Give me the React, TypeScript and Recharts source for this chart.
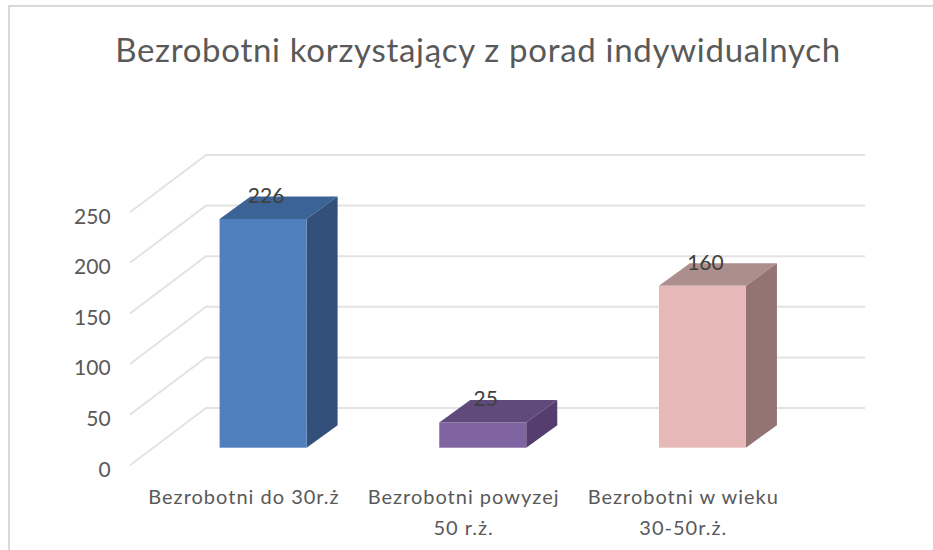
import React from 'react';
import { BarChart, Bar, XAxis, YAxis, CartesianGrid, LabelList } from 'recharts';

const categories = ['Bezrobotni do 30r.ż', 'Bezrobotni powyzej\n50 r.ż.', 'Bezrobotni w wieku\n30-50r.ż.'];
const values = [226, 25, 160];
const yTicks = [0, 50, 100, 150, 200, 250];

const frontColors = ['#4f7fbc', '#8064a2', '#e6b9b8'];
const topColors = ['#3b6395', '#604a7b', '#ac8e8c'];
const sideColors = ['#325079', '#553e6f', '#937473'];

const data = categories.map((name, i) => ({ name, value: values[i] }));

const FONT = 'Lato, sans-serif';
const DEPTH_X = 31;
const DEPTH_Y = 22.5;

const Bar3D = (props: any) => {
  const { x, y, width, height, index } = props;
  const r = x + width;
  const b = y + height;
  return (
    <g>
      <polygon
        points={`${x},${y} ${x + DEPTH_X},${y - DEPTH_Y} ${r + DEPTH_X},${y - DEPTH_Y} ${r},${y}`}
        fill={topColors[index]}
      />
      <polygon
        points={`${r},${y} ${r + DEPTH_X},${y - DEPTH_Y} ${r + DEPTH_X},${b - DEPTH_Y} ${r},${b}`}
        fill={sideColors[index]}
      />
      <rect x={x} y={y} width={width} height={height} fill={frontColors[index]} />
    </g>
  );
};

// floor diagonal plus back wall line for each y tick
const GridLine3D = (props: any) => {
  const { x1, x2, y1, index } = props;
  return (
    <g key={`grid-${index}`} stroke="#e3e3e3" strokeWidth={2} fill="none">
      <polyline points={`${x1 - 23.6},${y1 + 17.5} ${x1 + 52.4},${y1 - 39.7} ${x2 + 52.4},${y1 - 39.7}`} />
    </g>
  );
};

const YTick = (props: any) => {
  const { x, y, payload } = props;
  return (
    <text x={x - 35} y={y + 20.3} textAnchor="end" dominantBaseline="central" fill="#595959" fontSize={21} fontFamily={FONT}>
      {payload.value}
    </text>
  );
};

const XTick = (props: any) => {
  const { x, y, payload } = props;
  const lines = String(payload.value).split('\n');
  return (
    <text textAnchor="middle" fill="#595959" fontSize={20} letterSpacing={1} fontFamily={FONT}>
      {lines.map((line, i) => (
        <tspan key={i} x={x - 19.5} y={y + 48 + i * 31}>
          {line}
        </tspan>
      ))}
    </text>
  );
};

export default function App() {
  return (
    <div style={{ position: 'absolute', left: 0, top: 0, width: 933, height: 550, overflow: 'hidden', background: '#fff' }}>
      <div
        style={{
          position: 'absolute',
          left: 8,
          top: 5,
          width: 925,
          height: 545,
          borderLeft: '2px solid #d9d9d9',
          borderTop: '2px solid #d9d9d9',
        }}
      />
      <div
        style={{
          position: 'absolute',
          left: 0,
          width: 956,
          top: 27,
          textAlign: 'center',
          fontFamily: FONT,
          fontSize: 33,
          letterSpacing: 0.7,
          lineHeight: '44px',
          color: '#595959',
        }}
      >
        Bezrobotni korzystający z porad indywidualnych
      </div>
      <div style={{ position: 'absolute', left: 0, top: 0 }}>
        <BarChart
          width={933}
          height={550}
          data={data}
          barSize={87}
          margin={{ top: 194.7, right: 120.4, bottom: 72.3, left: 103.6 }}
        >
          <CartesianGrid vertical={false} horizontal={GridLine3D as any} />
          <XAxis dataKey="name" interval={0} axisLine={false} tickLine={false} tick={XTick as any} height={30} />
          <YAxis domain={[0, 250]} ticks={yTicks} width={50} axisLine={false} tickLine={false} tick={YTick as any} />
          <Bar dataKey="value" shape={Bar3D as any} isAnimationActive={false}>
            <LabelList
              dataKey="value"
              position="top"
              offset={16}
              dx={3}
              fill="#404040"
              fontSize={21}
              fontFamily={FONT}
            />
          </Bar>
        </BarChart>
      </div>
    </div>
  );
}
